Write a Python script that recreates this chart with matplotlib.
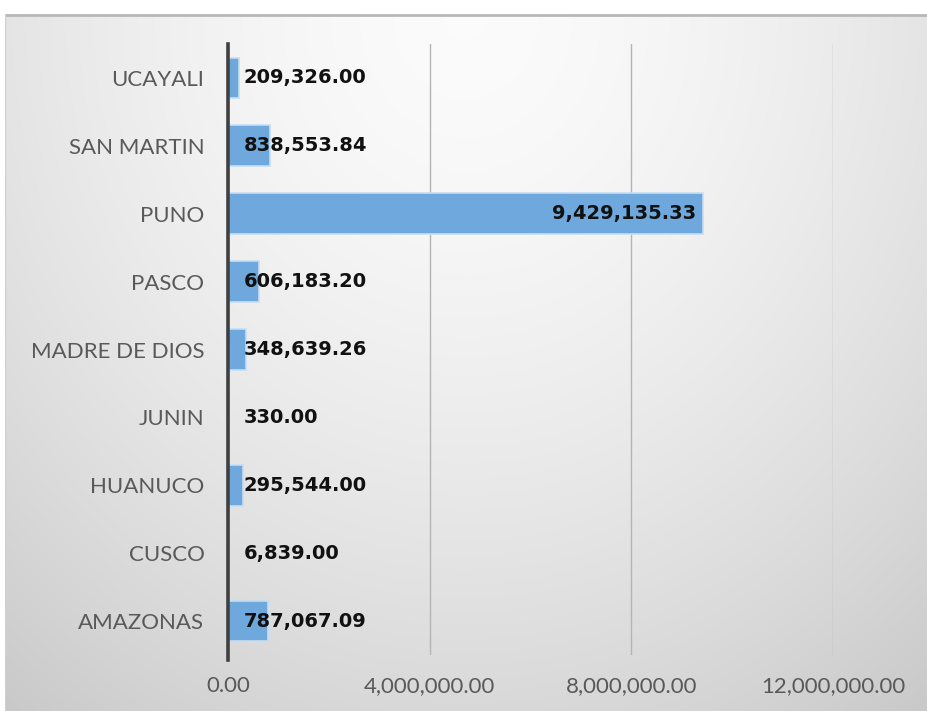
import numpy as np
import matplotlib
matplotlib.use("Agg")
import matplotlib.pyplot as plt
from matplotlib.ticker import FuncFormatter

categories = ["AMAZONAS", "CUSCO", "HUANUCO", "JUNIN", "MADRE DE DIOS",
              "PASCO", "PUNO", "SAN MARTIN", "UCAYALI"]
values = [787067.09, 6839.00, 295544.00, 330.00, 348639.26,
          606183.20, 9429135.33, 838553.84, 209326.00]
xticks = [0, 4000000, 8000000, 12000000]

W, H = 927, 711
fig = plt.figure(figsize=(W / 100, H / 100), dpi=100)
fig.patch.set_facecolor("white")

# chart-area background with soft gradient
bg = fig.add_axes([5 / W, 0, 1 - 5 / W, (H - 14) / H], zorder=0)
ny, nx = 300, 400
yy, xx = np.mgrid[0:1:ny * 1j, 0:1:nx * 1j]
r = np.sqrt(((xx - 0.5) / 0.75) ** 2 + ((yy - 0.0) / 1.15) ** 2)
lum = 0.985 - 0.17 * np.clip(r, 0, 1.2) ** 1.6
img = np.dstack([lum, lum, lum])
bg.imshow(img, extent=[0, 1, 0, 1], aspect="auto", origin="upper")
bg.plot([0, 1], [0.999, 0.999], color="#b8b8b8", lw=2.0)
bg.plot([0.0005, 0.0005], [0, 1], color="#d0d0d0", lw=1.0)
bg.set_xlim(0, 1)
bg.set_ylim(0, 1)
bg.axis("off")

ax = fig.add_axes([228 / W, 1 - 655 / H, (833 - 228) / W, (655 - 44) / H], zorder=1)
ax.set_facecolor("none")

y = np.arange(len(categories))
ax.barh(y, values, height=0.6, color="#6fa8dc", edgecolor="#c6def3",
        linewidth=1.2, zorder=3)

ax.set_xlim(0, 12000000)
ax.set_ylim(-0.5, len(categories) - 0.5)
ax.set_xticks(xticks)
ax.xaxis.set_major_formatter(FuncFormatter(lambda v, p: f"{v:,.2f}"))
ax.set_yticks(y)
ax.set_yticklabels(categories)

for s in ["top", "right", "bottom"]:
    ax.spines[s].set_visible(False)
ax.spines["left"].set_color("#404040")
ax.spines["left"].set_linewidth(2.6)
ax.spines["left"].set_zorder(4)
ax.spines["left"].set_bounds(-0.58, len(categories) - 0.5)

ax.grid(axis="x", color="#b4b4b4", linewidth=1.0, zorder=1)
ax.set_axisbelow(True)
ax.tick_params(axis="both", length=0, labelsize=16, labelcolor="#595959")
ax.tick_params(axis="x", pad=15)
ax.tick_params(axis="y", pad=17)
for lab in ax.get_xticklabels() + ax.get_yticklabels():
    lab.set_family(["Lato", "DejaVu Sans"])

xmax = ax.get_xlim()[1]
for yi, v in zip(y, values):
    txt = f"{v:,.2f}"
    if v / xmax > 0.3:
        ax.annotate(txt, xy=(v, yi), xytext=(-5, 0), textcoords="offset points",
                    ha="right", va="center", fontsize=14, fontweight="bold",
                    color="#111111", family=["DejaVu Sans"], zorder=5)
    else:
        ax.annotate(txt, xy=(0, yi), xytext=(11, 0), textcoords="offset points",
                    ha="left", va="center", fontsize=14, fontweight="bold",
                    color="#111111", family=["DejaVu Sans"], zorder=5)

fig.savefig("out.png", dpi=100, facecolor="white")
